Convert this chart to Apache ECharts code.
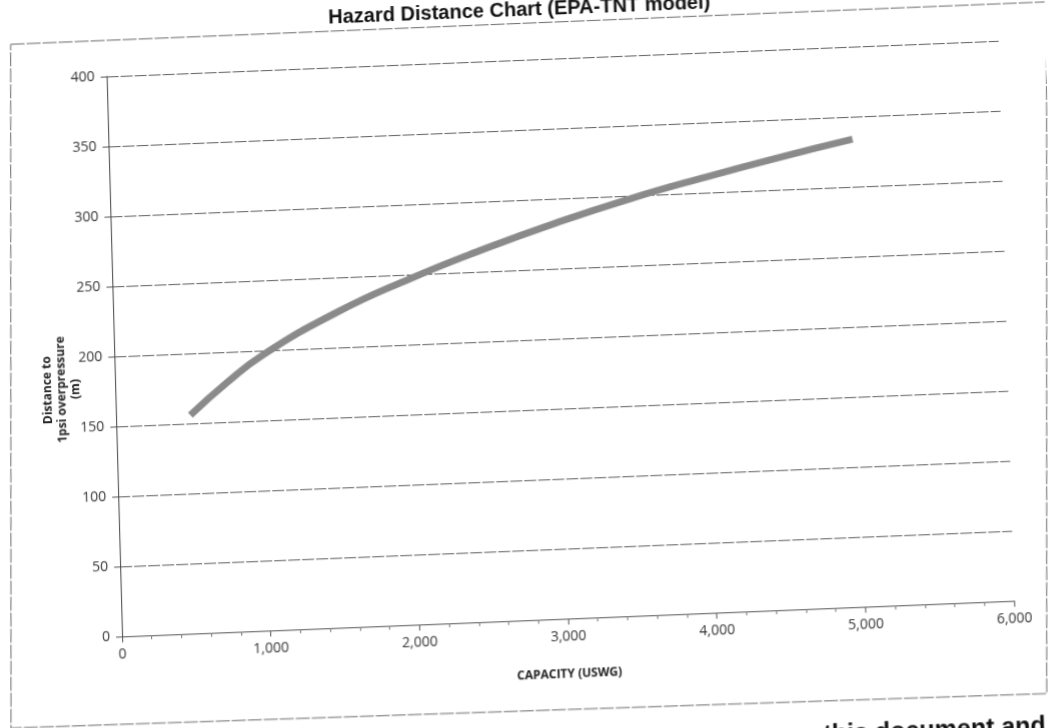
<!DOCTYPE html>
<html>
<head>
<meta charset="utf-8">
<script src="https://cdn.jsdelivr.net/npm/echarts@6/dist/echarts.min.js"></script>
<style>
  html, body { margin: 0; padding: 0; background: #fff; overflow: hidden; width: 1054px; height: 728px; }
  #chart {
    position: absolute; left: 0; top: -20px; width: 1054px; height: 780px;
    transform-origin: 527px 384px;
    transform: matrix(1, -0.04, 0.0276, 1, 0, 0);
  }
</style>
</head>
<body>
<div id="chart"></div>
<script>
const titleText = 'Hazard Distance Chart (EPA-TNT model)';
const xAxisName = 'CAPACITY (USWG)';
const yAxisName = 'Distance to\n1psi overpressure\n(m)';
const footerText = 'this document and';

// capacity (US water gallons) vs distance to 1 psi overpressure (m)
const capacity = [500, 750, 1000, 1500, 2000, 2500, 3000, 3500, 4000, 4500, 5000];
const distance = [156, 178, 197, 225, 247, 266, 283, 298, 311, 323, 334];

const chart = echarts.init(document.getElementById('chart'), null, { renderer: 'canvas' });
const labelFont = "'Open Sans', 'Liberation Sans', sans-serif";

chart.setOption({
  backgroundColor: 'rgba(0,0,0,0)',
  animation: false,
  grid: { left: 115, right: 47, top: 80, bottom: 140, containLabel: false },
  graphic: [
    {
      type: 'polygon',
      shape: { points: [[20, 44], [1056, 43], [1037, 734], [1.5, 727]] },
      style: { fill: 'none', stroke: '#6a6a6a', lineWidth: 1, lineDash: [14, 2] },
      silent: true
    },
    {
      type: 'text', x: 529, y: 40,
      style: { text: titleText, fill: '#111', font: "bold 20px 'Liberation Sans', Arial, sans-serif",
               textAlign: 'center', textVerticalAlign: 'bottom' }
    },
    {
      type: 'text', x: 924, y: 755,
      style: { text: footerText, fill: '#111', font: "bold 25px 'Liberation Sans', Arial, sans-serif",
               textAlign: 'center', textVerticalAlign: 'top' }
    },
    {
      type: 'text', x: 62, y: 391, rotation: Math.PI / 2,
      style: { text: yAxisName, fill: '#222', font: "bold 12px " + labelFont,
               textAlign: 'center', textVerticalAlign: 'middle', lineHeight: 14 }
    }
  ],
  xAxis: {
    type: 'value', min: 0, max: 6000, interval: 1000,
    name: xAxisName, nameLocation: 'middle', nameGap: 50,
    nameTextStyle: { fontFamily: labelFont, fontWeight: 'bold', fontSize: 12, color: '#222' },
    axisLine: { show: true, lineStyle: { color: '#555', width: 1 } },
    axisTick: { show: true, length: 6, lineStyle: { color: '#555' } },
    minorTick: { show: true, splitNumber: 5, length: 4, lineStyle: { color: '#777' } },
    splitLine: { show: false },
    axisLabel: {
      margin: 11, fontFamily: labelFont, fontSize: 14, color: '#333',
      formatter: v => v.toLocaleString('en-US')
    }
  },
  yAxis: {
    type: 'value', min: 0, max: 400, interval: 50,
    axisLine: { show: true, lineStyle: { color: '#444', width: 1 } },
    axisTick: { show: true, length: 6, lineStyle: { color: '#555' } },
    splitLine: { show: true, lineStyle: { color: '#5f5f5f', width: 1, type: [12, 2] } },
    axisLabel: { margin: 12, fontFamily: labelFont, fontSize: 14, color: '#333' }
  },
  series: [{
    type: 'line',
    data: capacity.map((c, i) => [c, distance[i]]),
    smooth: true,
    showSymbol: false,
    lineStyle: { color: '#8a8a8a', width: 7, cap: 'butt' }
  }]
});
</script>
</body>
</html>
